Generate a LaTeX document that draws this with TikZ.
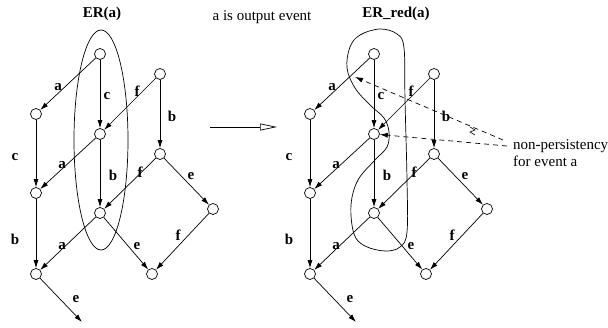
\documentclass[tikz,border=0pt]{standalone}
\usepackage{fontspec}
\setmainfont{Liberation Serif}
\usetikzlibrary{arrows.meta,shapes.geometric}
\newcommand\mygraph{%
  \node[st] (T)  at (100,54)  {};
  \node[st] (F)  at (160,74)  {};
  \node[st] (A)  at (36,114)  {};
  \node[st] (C)  at (100,134) {};
  \node[st] (B)  at (160,154) {};
  \node[st] (A2) at (36,193)  {};
  \node[st] (M)  at (100,213) {};
  \node[st] (E)  at (213,209) {};
  \node[st] (BL) at (36,274)  {};
  \node[st] (BR) at (152,274) {};
  \coordinate (X) at (82,322);
  \draw[edge] (T) -- (A);
  \draw[edge] (T) -- (C);
  \draw[edge] (F) -- (C);
  \draw[edge] (F) -- (B);
  \draw[edge] (A) -- (A2);
  \draw[edge] (C) -- (A2);
  \draw[edge] (C) -- (M);
  \draw[edge] (B) -- (M);
  \draw[edge] (B) -- (E);
  \draw[edge] (A2) -- (BL);
  \draw[edge] (M) -- (BL);
  \draw[edge] (M) -- (BR);
  \draw[edge] (E) -- (BR);
  \draw[edge] (BL) -- (X);
  \node[lbl] (l1)  at (58,87)   {a};
  \node[lbl] (l2)  at (107,96)  {c};
  \node[lbl] (l3)  at (137,91)  {f};
  \node[lbl] (l4)  at (172,116) {b};
  \node[lbl] (l5)  at (15,157)  {c};
  \node[lbl] (l6)  at (62,165)  {a};
  \node[lbl] (l7)  at (113,175) {b};
  \node[lbl] (l8)  at (140,172) {f};
  \node[lbl] (l9)  at (191,176) {e};
  \node[lbl] (l10) at (15,239)  {b};
  \node[lbl] (l11) at (62,246)  {a};
  \node[lbl] (l12) at (137,246) {e};
  \node[lbl] (l13) at (178,235) {f};
  \node[lbl] (l14) at (76,299)  {e};
}
\begin{document}
\begin{tikzpicture}[x=1pt,y=-1pt,
  st/.style={circle,draw,fill=white,minimum size=11pt,inner sep=0pt,line width=0.7pt},
  edge/.style={-{Latex[length=8pt,width=5pt]},line width=0.7pt},
  lbl/.style={font=\fontsize{15}{17}\selectfont\bfseries,inner sep=0pt},
  txt/.style={font=\fontsize{15}{17}\selectfont,inner sep=0pt},
  ]
\useasboundingbox (0,0) rectangle (608,328);

% left ER(a) ellipse
\node[ellipse,draw,line width=0.7pt,minimum width=54pt,minimum height=220pt,inner sep=0pt] (er) at (101,140) {};

% right ER_red(a) contour
\draw[line width=0.7pt] plot[smooth cycle,tension=0.6] coordinates {
  (360,35) (380,29) (397,34) (404,48) (405,100) (407,180) (407,232)
  (400,247) (385,251) (365,246) (354,234) (351,205) (358,180) (375,160)
  (387,147) (389,132) (384,118) (370,105) (355,88) (347,68) (350,47)};

\begin{scope}[name prefix=L-]
  \mygraph
\end{scope}
\begin{scope}[xshift=274pt,name prefix=R-]
  \mygraph
\end{scope}

% titles
\node[lbl] (t1) at (102,14) {ER(a)};
\node[lbl] (t2) at (396,14) {ER\_red(a)};
\node[txt] (t3) at (262,17) {a is output event};

% big arrow
\coordinate (s1) at (210,127);
\coordinate (s2) at (277,127);
\draw[line width=0.7pt,-{Triangle[open,length=17pt,width=7pt]}] (s1) -- (s2);

% non-persistency annotation
\node[txt,anchor=west,align=left] (np) at (513,153.5) {non-persistency\\for event a};
\coordinate (d1s) at (503,140);
\coordinate (d1e) at (355,77);
\coordinate (d2s) at (507,146);
\draw[line width=0.7pt,dash pattern=on 5pt off 4pt,-{Latex[length=8pt,width=5pt]}] (d1s) -- (d1e);
\draw[line width=0.7pt,dash pattern=on 5pt off 4pt,-{Latex[length=8pt,width=5pt]}] (d2s) -- (R-C);
\coordinate (z1) at (470,127);
\coordinate (z2) at (475,130);
\coordinate (z3) at (470,132);
\coordinate (z4) at (475,135);
\draw[line width=0.6pt,fill=white] (z1) -- (z2) -- (z3) -- (z4);
\end{tikzpicture}
\end{document}
